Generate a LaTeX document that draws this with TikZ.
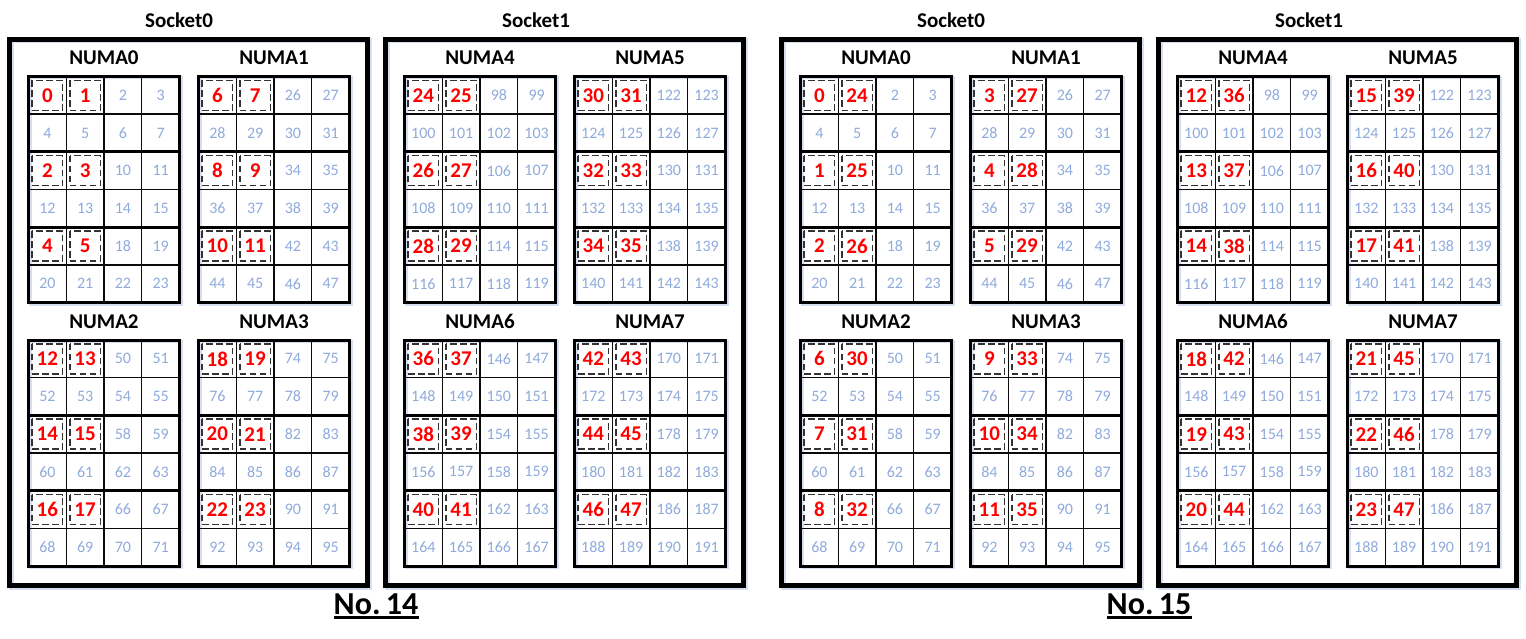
\documentclass[tikz,border=0pt]{standalone}
\usepackage{fontspec}
\setmainfont{Carlito}
\definecolor{cpublue}{HTML}{8FAADC}
\definecolor{dashgray}{HTML}{333333}
\definecolor{framegray}{HTML}{0A0A0A}
\definecolor{shadowblue}{HTML}{D5DFF0}
\begin{document}
\begin{tikzpicture}[x=1pt,y=-1pt,
  sockframe/.style={draw=black,line width=5pt},
  sockshadow/.style={draw=shadowblue,line width=5pt},
  gridframe/.style={draw=black,line width=3pt},
  gridshadow/.style={draw=shadowblue,line width=3pt},
  gridthin/.style={draw=framegray,line width=1.4pt},
  gridthick/.style={draw=black,line width=3pt},
  dashbox/.style={draw=dashgray,line width=1.5pt,dash pattern=on 6.5pt off 3.5pt},
  socklbl/.style={inner sep=0pt,font=\fontsize{21}{21}\selectfont\bfseries},
  numalbl/.style={inner sep=0pt,font=\fontsize{21}{21}\selectfont\bfseries},
  rednum/.style={inner sep=0pt,text=red,font=\fontsize{21}{21}\selectfont\bfseries},
  bluenum/.style={inner sep=0pt,text=cpublue,font=\fontsize{16}{16}\selectfont},
  titlelbl/.style={inner sep=0pt,anchor=base,font=\fontsize{32}{32}\selectfont\bfseries}]
\useasboundingbox (0,0) rectangle (1526,639);
\foreach \Sx/\dg/\sk in {7/0/0,383/0/1,779/1/0,1156/1/1}{
  \pgfmathsetmacro\slx{\Sx + (\sk==0 ? 172 : 153)}
  \node[socklbl] (sock-\dg-\sk) at (\slx,20) {Socket\sk};
  \draw[sockshadow] (\Sx+4,41) rectangle (\Sx+362,587);
  \draw[sockframe] (\Sx+2.5,39.5) rectangle (\Sx+360.5,585.5);
  \foreach \q in {0,1,2,3}{
    \pgfmathtruncatemacro\k{4*\sk+\q}
    \pgfmathsetmacro\gx{\Sx + 21.5 + mod(\q,2)*170}
    \pgfmathsetmacro\gy{\q<2 ? 76.5 : 340}
    \pgfmathsetmacro\gcx{\gx+75.5}
    \node[numalbl] (numa-\dg-\k) at (\gcx,\gy-18.5) {NUMA\k};
    \draw[gridshadow] (\gx+1.5,\gy+1.5) rectangle ++(151,226);
    \foreach \c in {1,2,3} \draw[gridthin] (\gx+\c*37.75,\gy) -- ++(0,226);
    \foreach \r in {1,3,5} \draw[gridthin] (\gx,\gy+\r*37.6667) -- ++(151,0);
    \foreach \r in {2,4} \draw[gridthick] (\gx,\gy+\r*37.6667) -- ++(151,0);
    \draw[gridframe] (\gx,\gy) rectangle ++(151,226);
    \foreach \r in {0,...,5}{
      \foreach \c in {0,...,3}{
        \pgfmathsetmacro\cx{\gx+(\c+0.5)*37.75}
        \pgfmathsetmacro\cy{\gy+(\r+0.5)*37.6667}
        \pgfmathtruncatemacro\isred{(mod(\r,2)==0) && (\c<2)}
        \ifnum\isred=1
          \pgfmathtruncatemacro\val{\dg==0 ? 6*\k+\r+\c : (\c==0 ? 3*\k+\r/2 : 24+3*\k+\r/2)}
          \draw[dashbox] (\cx-15.2,\cy-15) rectangle (\cx+15.2,\cy+15);
          \node[rednum] (cpu-\dg-\k-\r-\c) at (\cx,\cy) {\val};
        \else
          \pgfmathtruncatemacro\val{24*\k+4*\r+\c}
          \node[bluenum] (cpu-\dg-\k-\r-\c) at (\cx,\cy) {\val};
        \fi
      }
    }
  }
}
\node[titlelbl] (no14) at (376,614.5) {No.\,14};
\draw[line width=2.5pt] ([yshift=-3pt]no14.base west) -- ([yshift=-3pt]no14.base east);
\node[titlelbl] (no15) at (1149,614.5) {No.\,15};
\draw[line width=2.5pt] ([yshift=-3pt]no15.base west) -- ([yshift=-3pt]no15.base east);
\end{tikzpicture}
\end{document}
